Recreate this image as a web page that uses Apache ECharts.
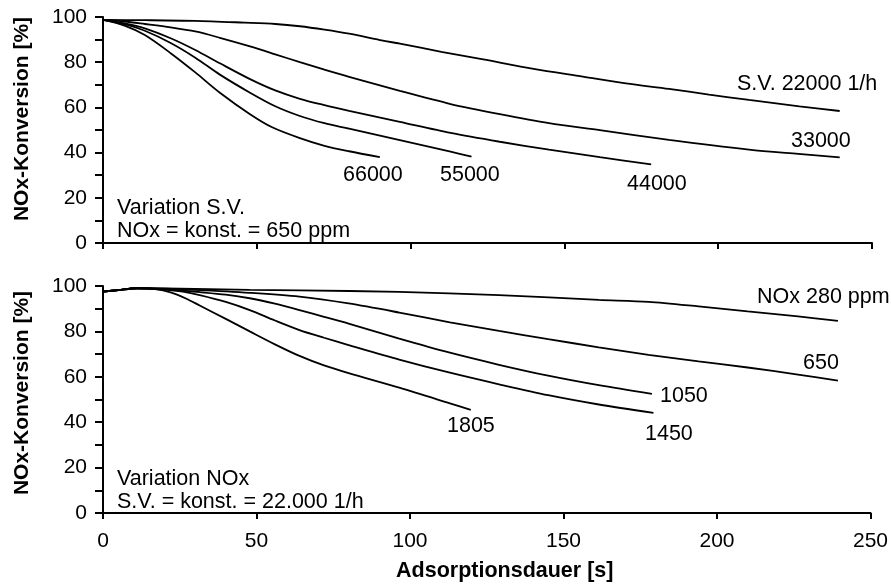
<!DOCTYPE html>
<html>
<head>
<meta charset="utf-8">
<script src="https://cdn.jsdelivr.net/npm/echarts@6/dist/echarts.min.js"></script>
<style>html,body{margin:0;padding:0;background:#fff;}#c{width:891px;height:588px;}</style>
</head>
<body>
<div id="c"></div>
<script>
// ---- Data (x = Adsorptionsdauer [s], y = NOx-Konversion [%]) ----
// Top panel: variation of S.V. (NOx = 650 ppm)
const sv22000 = [[0,98.7],[13.6,98.6],[30,98.3],[46,97.5],[56,96.9],[64,95.9],[72,94.4],[80,92.6],[90,89.8],[96.5,88.2],[110,84.6],[123.6,81.2],[140,77],[156,73.6],[170,70.6],[184,68.2],[197,65.7],[210,63.3],[226.4,60.5],[239.5,58.4]];
const sv33000 = [[0,98.7],[7,98],[13.6,96.9],[22,95.4],[30,93.6],[38,90.8],[47.8,87],[56,83.5],[64,80],[72,76.7],[80,73.5],[96.5,67.3],[113,61.5],[129,57],[145,53],[161.5,49.9],[184,45.6],[210,41.3],[226,39.4],[239.5,37.9]];
const sv44000 = [[0,98.7],[7,97.2],[13.6,95],[22,90.6],[30,85.4],[38,79.5],[47.8,72.5],[56,67.5],[64,63.8],[72,61],[80,58.5],[96.5,53.6],[113,48.7],[129,44.8],[145,41.3],[161.5,38],[178.2,34.8]];
const sv55000 = [[0,98.7],[7,96.8],[13.6,93.9],[22,88.5],[30,82],[38,74.5],[47.8,66.5],[56,60.5],[64,56.2],[72,53],[80,50.6],[96.5,45.5],[113,40.4],[119.8,38.2]];
const sv66000 = [[0,98.7],[7,96.2],[13.6,92],[22,84],[30,75.5],[38,66.5],[47.8,57],[55,51.2],[64,46.4],[72,43],[80,40.6],[90,38]];

// Bottom panel: variation of NOx (S.V. = 22.000 1/h)
const nox280  = [[0,97.5],[5,98.2],[11,99],[20,98.9],[30,98.7],[47.8,98.3],[64,98.1],[96.5,97.4],[129,96],[161.5,93.9],[177.7,93],[194,91],[210,88.8],[226.4,86.6],[239.4,84.6]];
const nox650  = [[0,97.5],[5,98.2],[11,99],[20,98.8],[30,98.3],[47.8,97],[64,95.3],[80,92.3],[96.5,88.3],[113,84],[129,80.2],[145,76.6],[161.5,73],[177.7,69.7],[194,66.8],[210,64.1],[226.4,61],[239.4,58.3]];
const nox1050 = [[0,97.5],[5,98.2],[11,99],[20,98.6],[31.5,97.3],[40,96.2],[47.8,94.6],[56,92.2],[64,89.4],[72,86.4],[80,83.4],[96.5,76.8],[113,70.6],[129,65.3],[145,60.5],[161.5,56.3],[178.8,52.5]];
const nox1450 = [[0,97.5],[5,98.2],[11,99],[20,98.4],[26,97.5],[31.5,96],[40,93],[47.8,89.4],[56,84.8],[64,80.6],[72,77.2],[80,74],[96.5,67.6],[113,61.8],[129,56.7],[145,51.9],[161.5,47.8],[179.3,44.1]];
const nox1805 = [[0,97.5],[5,98.2],[11,99],[17,98.6],[22,97.2],[27,94.5],[31.5,91.4],[40,85.5],[47.8,80],[56,74.3],[64,69.2],[72,65],[80,61.6],[96.5,55.2],[113,48.3],[119.8,45.4]];

const xTicks = [0, 50, 100, 150, 200, 250];
const yTicks = [0, 20, 40, 60, 80, 100];

const topSeries = [['S.V. 22000 1/h', sv22000], ['33000', sv33000], ['44000', sv44000], ['55000', sv55000], ['66000', sv66000]];
const botSeries = [['NOx 280 ppm', nox280], ['650', nox650], ['1050', nox1050], ['1450', nox1450], ['1805', nox1805]];

const FONT = "'Liberation Sans', Arial, Helvetica, sans-serif";
const chart = echarts.init(document.getElementById('c'), null, {renderer: 'canvas'});

function xAxis(gridIndex, showLabels) {
  return {
    type: 'value', gridIndex, min: xTicks[0], max: xTicks[xTicks.length - 1], interval: 50,
    axisLine: {show: true, onZero: false, lineStyle: {color: '#000', width: 2}},
    axisTick: {show: true, length: 6, inside: false, lineStyle: {color: '#000', width: 2}},
    axisLabel: {show: showLabels, color: '#000', fontSize: 21, fontFamily: FONT, margin: 18},
    splitLine: {show: false},
    name: showLabels ? 'Adsorptionsdauer [s]' : '',
    nameLocation: 'middle', nameGap: 47,
    nameTextStyle: {color: '#000', fontSize: 21.5, fontWeight: 'bold', fontFamily: FONT, padding: [0, 0, 0, 36]}
  };
}
function yAxis(gridIndex) {
  return {
    type: 'value', gridIndex, min: yTicks[0], max: yTicks[yTicks.length - 1], interval: 20,
    axisLine: {show: true, lineStyle: {color: '#000', width: 2}},
    axisTick: {show: true, length: 8, lineStyle: {color: '#000', width: 2}},
    minorTick: {show: true, splitNumber: 2, length: 8, lineStyle: {color: '#000', width: 2}},
    axisLabel: {color: '#000', fontSize: 21, fontFamily: FONT, margin: 16},
    splitLine: {show: false}
  };
}
function mkSeries(list, idx) {
  return list.map(([name, data]) => ({
    name, type: 'line', xAxisIndex: idx, yAxisIndex: idx, data,
    showSymbol: false, symbol: 'none', smooth: 0.3,
    lineStyle: {color: '#000', width: 1.8}, silent: true, animation: false
  }));
}

const labelStyle = (text, x, y, align) => ({
  type: 'text', x, y,
  style: {text, fill: '#000', font: '21.5px ' + FONT, textAlign: align || 'left', textVerticalAlign: 'middle'}
});

chart.setOption({
  animation: false,
  backgroundColor: '#fff',
  grid: [
    {left: 103, right: 19, top: 17, height: 226},
    {left: 103, right: 19, top: 286, height: 227}
  ],
  xAxis: [xAxis(0, false), xAxis(1, true)],
  yAxis: [yAxis(0), yAxis(1)],
  series: [...mkSeries(topSeries, 0), ...mkSeries(botSeries, 1)],
  graphic: [
    {type: 'text', x: 22, y: 119, rotation: Math.PI / 2,
     style: {text: 'NOx-Konversion [%]', fill: '#000', font: 'bold 21px ' + FONT, textAlign: 'center', textVerticalAlign: 'middle'}},
    {type: 'text', x: 22, y: 393, rotation: Math.PI / 2,
     style: {text: 'NOx-Konversion [%]', fill: '#000', font: 'bold 21px ' + FONT, textAlign: 'center', textVerticalAlign: 'middle'}},
    labelStyle('S.V. 22000 1/h', 737, 84),
    labelStyle('33000', 791, 141),
    labelStyle('44000', 627, 184),
    labelStyle('55000', 440, 175),
    labelStyle('66000', 343, 175),
    labelStyle('Variation S.V.', 117, 208),
    labelStyle('NOx = konst. = 650 ppm', 117, 231),
    labelStyle('NOx 280 ppm', 757, 297),
    labelStyle('650', 803, 363),
    labelStyle('1050', 660, 396),
    labelStyle('1450', 645, 434),
    labelStyle('1805', 447, 426),
    labelStyle('Variation NOx', 117, 479),
    labelStyle('S.V. = konst. = 22.000 1/h', 117, 502)
  ]
});
</script>
</body>
</html>
